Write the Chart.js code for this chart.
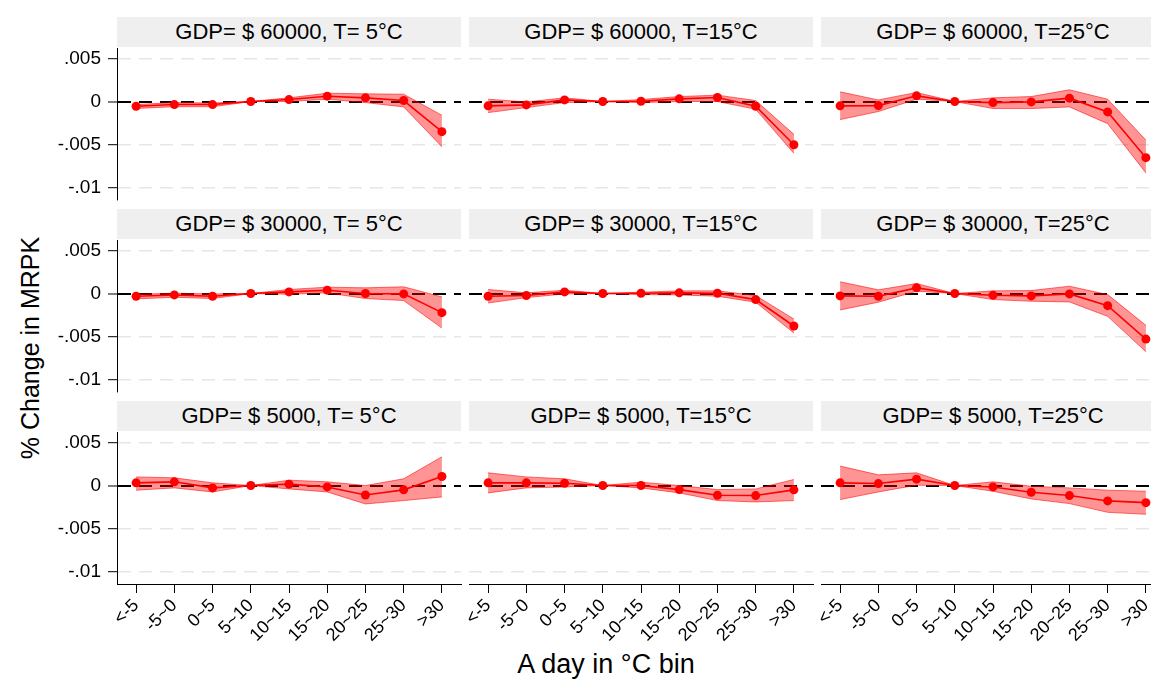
<!DOCTYPE html>
<html>
<head>
<meta charset="utf-8">
<script src="https://cdn.jsdelivr.net/npm/chart.js@4"></script>
<style>
  html, body { margin: 0; padding: 0; background: #fff; overflow: hidden; }
  body { width: 1151px; height: 681px; position: relative; font-family: "Liberation Sans", Arial, sans-serif; }
  canvas { position: absolute; }
  .strip { position: absolute; background: #efefef; color: #000; text-align: center;
           font-size: 22px; height: 30px; line-height: 30px; white-space: nowrap; }
  .title { position: absolute; color: #000; text-align: center; white-space: nowrap; }
</style>
</head>
<body>
<div class="title" style="left:406px; top:647px; width:400px; font-size:27px; line-height:34px;">A day in °C bin</div>
<div class="title" style="left:-120px; top:331px; width:300px; font-size:25px; line-height:34px; transform:rotate(-90deg);">% Change in MRPK</div>
<script>
const bins = ['<-5', '-5~0', '0~5', '5~10', '10~15', '15~20', '20~25', '25~30', '>30'];
const yTicks = [-0.01, -0.005, 0, 0.005];
const yTickLabels = ['-.01', '-.005', '0', '.005'];

// GDP = $ 60000
const est60T5 = [-0.00054, -0.00035, -0.00035, 0, 0.00023, 0.00062, 0.00043, 0.00012, -0.00349];
const hi60T5  = [-0.00035, -0.00012, -0.00016, 0, 0.00043, 0.00097, 0.00089, 0.00085, -0.00159];
const lo60T5  = [-0.0008, -0.0006, -0.0006, 0, 0, 0.00027, -0.00012, -0.00062, -0.00523];

const est60T15 = [-0.0005, -0.00039, 0.00019, 0, 0.00004, 0.00031, 0.00047, -0.00054, -0.005];
const hi60T15  = [0.00027, -0.00004, 0.00043, 0, 0.00023, 0.00058, 0.00074, 0.00012, -0.0038];
const lo60T15  = [-0.00128, -0.0007, -0.00012, 0, -0.00012, 0, 0, -0.00089, -0.006];

const est60T25 = [-0.0005, -0.00047, 0.00066, 0, -0.00012, -0.00004, 0.00039, -0.0012, -0.0065];
const hi60T25  = [0.00112, 0.00019, 0.00105, 0, 0.00043, 0.00058, 0.00136, 0.00027, -0.00446];
const lo60T25  = [-0.00209, -0.00116, 0.00027, 0, -0.00081, -0.00081, -0.00062, -0.00256, -0.00826];

// GDP = $ 30000
const est30T5 = [-0.00031, -0.00016, -0.00031, 0, 0.00019, 0.00039, 0, -0.00004, -0.00221];
const hi30T5  = [-0.00008, 0.00004, -0.00004, 0, 0.00047, 0.00074, 0.00066, 0.00078, -0.00039];
const lo30T5  = [-0.00062, -0.00043, -0.00058, 0, -0.00008, 0.00008, -0.00058, -0.00081, -0.00399];

const est30T15 = [-0.00031, -0.00023, 0.00019, 0, 0.00004, 0.00008, 0.00004, -0.0007, -0.00376];
const hi30T15  = [0.00047, 0.00008, 0.00039, 0, 0.00016, 0.00031, 0.00031, -0.00023, -0.00295];
const lo30T15  = [-0.00109, -0.00047, -0.00004, 0, -0.00012, -0.00016, -0.00031, -0.001, -0.00457];

const est30T25 = [-0.00027, -0.00031, 0.00066, 0, -0.00019, -0.00027, -0.00004, -0.0014, -0.00527];
const hi30T25  = [0.00136, 0.00043, 0.00116, 0, 0.00031, 0.00035, 0.00085, -0.00012, -0.00368];
const lo30T25  = [-0.0019, -0.001, 0.00027, 0, -0.0007, -0.00089, -0.00097, -0.00264, -0.00674];

// GDP = $ 5000
const est5T5 = [0.00031, 0.00043, -0.00027, 0, 0.00016, -0.00016, -0.00109, -0.0005, 0.00105];
const hi5T5  = [0.001, 0.00089, 0.00031, 0, 0.00062, 0.00043, 0, 0.00078, 0.00333];
const lo5T5  = [-0.00054, -0.00027, -0.00074, 0, -0.00039, -0.00074, -0.00213, -0.00174, -0.00132];

const est5T15 = [0.00031, 0.00031, 0.00027, 0, 0, -0.00047, -0.00112, -0.00116, -0.0005];
const hi5T15  = [0.00147, 0.001, 0.00078, 0, 0.00039, 0, -0.00047, -0.00039, 0.0007];
const lo5T15  = [-0.00085, -0.00027, -0.00016, 0, -0.00027, -0.00085, -0.00174, -0.0019, -0.00174];

const est5T25 = [0.00031, 0.00023, 0.00074, 0, -0.00016, -0.00078, -0.00116, -0.00178, -0.00198];
const hi5T25  = [0.00225, 0.00124, 0.00147, 0, 0.00043, -0.00008, -0.00027, -0.00054, -0.00066];
const lo5T25  = [-0.00163, -0.00074, 0.00004, 0, -0.00066, -0.00155, -0.00209, -0.0031, -0.00333];

const panels = [
  ['GDP= $ 60000, T= 5°C', est60T5, lo60T5, hi60T5],
  ['GDP= $ 60000, T=15°C', est60T15, lo60T15, hi60T15],
  ['GDP= $ 60000, T=25°C', est60T25, lo60T25, hi60T25],
  ['GDP= $ 30000, T= 5°C', est30T5, lo30T5, hi30T5],
  ['GDP= $ 30000, T=15°C', est30T15, lo30T15, hi30T15],
  ['GDP= $ 30000, T=25°C', est30T25, lo30T25, hi30T25],
  ['GDP= $ 5000, T= 5°C', est5T5, lo5T5, hi5T5],
  ['GDP= $ 5000, T=15°C', est5T15, lo5T15, hi5T15],
  ['GDP= $ 5000, T=25°C', est5T25, lo5T25, hi5T25]
];

// panel geometry (plot areas)
const colL = [117, 469, 821], colR = [461, 813, 1165];
const rowT = [48, 240, 432], rowB = [200, 392, 584];
const fam = '"Liberation Sans", Arial, sans-serif';

function makePanel(p, row, col) {
  const padL = col === 0 ? 67 : 20, padR = 20, padV = 22;
  const bottomRow = row === 2;
  const xh = 62;
  const cv = document.createElement('canvas');
  cv.width = colR[col] - colL[col] + padL + padR;
  cv.height = rowB[row] - rowT[row] + padV + (bottomRow ? xh : padV);
  cv.style.left = (colL[col] - padL) + 'px';
  cv.style.top = (rowT[row] - padV) + 'px';
  document.body.appendChild(cv);

  const strip = document.createElement('div');
  strip.className = 'strip';
  strip.style.left = colL[col] + 'px';
  strip.style.width = (colR[col] - colL[col]) + 'px';
  strip.style.top = (rowT[row] - 31) + 'px';
  strip.textContent = p[0];
  document.body.appendChild(strip);

  new Chart(cv, {
    type: 'line',
    data: {
      labels: bins,
      datasets: [
        { data: p[1], borderColor: '#ff0000', borderWidth: 1.6, pointRadius: 4.5,
          pointBackgroundColor: '#ff0000', pointBorderWidth: 0, fill: false, tension: 0 },
        { data: p[3], borderColor: 'rgba(255,0,0,0.55)', borderWidth: 1, pointRadius: 0, fill: false, tension: 0 },
        { data: p[2], borderColor: 'rgba(255,0,0,0.55)', borderWidth: 1, pointRadius: 0,
          fill: '-1', backgroundColor: 'rgba(255,0,0,0.42)', tension: 0 }
      ]
    },
    options: {
      responsive: false,
      animation: false,
      devicePixelRatio: 1,
      layout: { padding: { left: col === 0 ? 0 : padL, right: padR, top: padV, bottom: bottomRow ? 0 : padV } },
      plugins: { legend: { display: false }, tooltip: { enabled: false } },
      scales: {
        x: {
          display: bottomRow,
          offset: true,
          afterFit: s => { if (bottomRow) s.height = xh; },
          grid: { drawOnChartArea: false, drawTicks: true, tickLength: 9, tickColor: '#000' },
          border: { display: true, color: '#000', width: 1 },
          ticks: { autoSkip: false, minRotation: 45, maxRotation: 45, padding: 2,
                   color: '#000', font: { size: 18, family: fam } }
        },
        y: {
          min: -0.0114,
          max: 0.0062,
          afterBuildTicks: s => { s.ticks = yTicks.map(v => ({ value: v })); },
          afterFit: s => { s.width = col === 0 ? 67 : 0; },
          grid: {
            color: c => (c.tick && c.tick.value === 0) ? '#000' : '#e6e6e6',
            lineWidth: c => (c.tick && c.tick.value === 0) ? 2 : 1.4,
            drawTicks: col === 0,
            tickLength: 9,
            tickColor: '#000',
            tickWidth: 1
          },
          border: { display: col === 0, color: '#000', width: 1, dash: [13, 8] },
          ticks: {
            display: col === 0,
            padding: 7,
            color: '#000',
            font: { size: 19, family: fam },
            callback: v => yTickLabels[yTicks.indexOf(v)]
          }
        }
      }
    }
  });
}

panels.forEach((p, i) => makePanel(p, Math.floor(i / 3), i % 3));
</script>
</body>
</html>
